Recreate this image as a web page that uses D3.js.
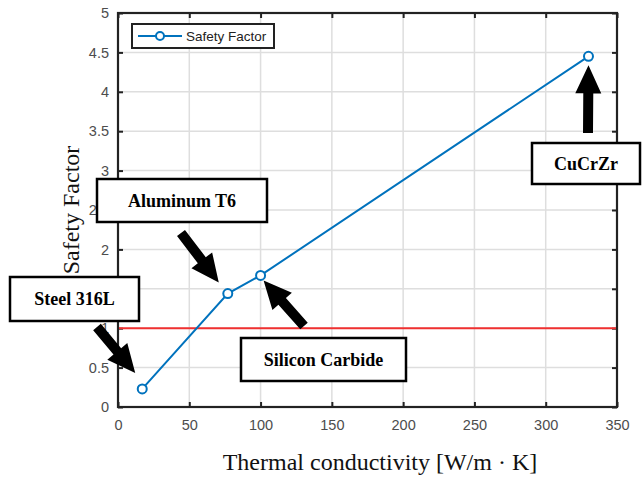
<!DOCTYPE html>
<html>
<head>
<meta charset="utf-8">
<script src="https://cdn.jsdelivr.net/npm/d3@7"></script>
<style>
  body { margin: 0; background: #fff; }
  svg { display: block; }
  .tick text { font-family: Arial, "Liberation Sans", sans-serif; font-size: 14.5px; fill: #4d4d4d; }
</style>
</head>
<body>
<div id="chart"></div>
<script>
const materials = ["Steel 316L", "Aluminum T6", "Silicon Carbide", "CuCrZr"];
const conductivity = [17, 77, 100, 330];
const safetyFactor = [0.23, 1.44, 1.67, 4.45];
const limitValue = 1;
const xTicks = [0, 50, 100, 150, 200, 250, 300, 350];
const yTicks = [0, 0.5, 1, 1.5, 2, 2.5, 3, 3.5, 4, 4.5, 5];

const width = 644, height = 477;
const margin = {top: 13, right: 27, bottom: 70, left: 118};

const svg = d3.select("#chart").append("svg")
    .attr("width", width)
    .attr("height", height);

const x = d3.scaleLinear().domain([0, 350]).range([margin.left, width - margin.right]);
const y = d3.scaleLinear().domain([0, 5]).range([height - margin.bottom, margin.top]);

const x0 = x.range()[0], x1 = x.range()[1];
const y0 = y.range()[0], y1 = y.range()[1];

// grid
const grid = svg.append("g");
grid.selectAll(".gx").data(xTicks.slice(1, -1)).enter().append("line")
    .attr("x1", d => x(d)).attr("x2", d => x(d))
    .attr("y1", y1).attr("y2", y0)
    .attr("stroke", "#dedede").attr("stroke-width", 1.5);
grid.selectAll(".gy").data(yTicks.slice(1, -1)).enter().append("line")
    .attr("y1", d => y(d)).attr("y2", d => y(d))
    .attr("x1", x0).attr("x2", x1)
    .attr("stroke", "#dedede").attr("stroke-width", 1.5);

// axes
svg.append("g")
    .attr("transform", `translate(0,${y0})`)
    .call(d3.axisBottom(x).tickValues(xTicks).tickSize(-5).tickPadding(13).tickFormat(d3.format("d")))
    .call(g => g.select(".domain").remove())
    .call(g => g.selectAll(".tick line").attr("stroke", "#222").attr("stroke-width", 2));
svg.append("g")
    .attr("transform", `translate(0,${y1})`)
    .call(d3.axisTop(x).tickValues(xTicks).tickSize(-5).tickFormat(""))
    .call(g => g.select(".domain").remove())
    .call(g => g.selectAll(".tick line").attr("stroke", "#222").attr("stroke-width", 2));
svg.append("g")
    .attr("transform", `translate(${x0},0)`)
    .call(d3.axisLeft(y).tickValues(yTicks).tickSize(-5).tickPadding(9).tickFormat(d3.format("")))
    .call(g => g.select(".domain").remove())
    .call(g => g.selectAll(".tick line").attr("stroke", "#222").attr("stroke-width", 2));
svg.append("g")
    .attr("transform", `translate(${x1},0)`)
    .call(d3.axisRight(y).tickValues(yTicks).tickSize(-5).tickFormat(""))
    .call(g => g.select(".domain").remove())
    .call(g => g.selectAll(".tick line").attr("stroke", "#222").attr("stroke-width", 2));

// frame
svg.append("rect")
    .attr("x", x0).attr("y", y1)
    .attr("width", x1 - x0).attr("height", y0 - y1)
    .attr("fill", "none").attr("stroke", "#222").attr("stroke-width", 2.2);

// limit line
svg.append("line")
    .attr("x1", x(0) + 1).attr("x2", x(350) - 1)
    .attr("y1", y(limitValue)).attr("y2", y(limitValue))
    .attr("stroke", "#f03030").attr("stroke-width", 2);

// series
const pts = conductivity.map((c, i) => ({c: c, s: safetyFactor[i], name: materials[i]}));
svg.append("path")
    .datum(pts)
    .attr("fill", "none")
    .attr("stroke", "#0072BD")
    .attr("stroke-width", 2)
    .attr("d", d3.line().x(d => x(d.c)).y(d => y(d.s)));
svg.selectAll(".pt").data(pts).enter().append("circle")
    .attr("cx", d => x(d.c)).attr("cy", d => y(d.s))
    .attr("r", 4.5)
    .attr("fill", "#fff")
    .attr("stroke", "#0072BD").attr("stroke-width", 2);

// legend
const lg = svg.append("g");
lg.append("rect").attr("x", 132).attr("y", 24).attr("width", 142).attr("height", 24)
    .attr("fill", "#fff").attr("stroke", "#222").attr("stroke-width", 2);
lg.append("line").attr("x1", 138).attr("x2", 182).attr("y1", 36).attr("y2", 36)
    .attr("stroke", "#0072BD").attr("stroke-width", 2);
lg.append("circle").attr("cx", 160).attr("cy", 36).attr("r", 4)
    .attr("fill", "#fff").attr("stroke", "#0072BD").attr("stroke-width", 2);
lg.append("text").attr("x", 186).attr("y", 41)
    .attr("font-family", "Arial, 'Liberation Sans', sans-serif")
    .attr("font-size", 13.5).attr("fill", "#222")
    .text("Safety Factor");

// axis titles
svg.append("text")
    .attr("x", 380).attr("y", 470)
    .attr("text-anchor", "middle")
    .attr("font-family", "'Liberation Serif', 'Times New Roman', serif")
    .attr("font-size", 24).attr("fill", "#111")
    .text("Thermal conductivity [W/m \u00b7 K]");
svg.append("text")
    .attr("transform", "translate(79,210) rotate(-90)")
    .attr("text-anchor", "middle")
    .attr("font-family", "'Liberation Serif', 'Times New Roman', serif")
    .attr("font-size", 24).attr("fill", "#111")
    .text("Safety Factor");

// annotations: label boxes and arrows (arrow tip offset from the data point)
const boxes = [
    {x: 10, y: 277, w: 129, h: 44, tail: [97, 327], off: [-7, -16]},
    {x: 97, y: 179, w: 170, h: 43, tail: [181, 233], off: [-9, -11]},
    {x: 241, y: 338, w: 165, h: 43, tail: [304, 326], off: [3, 5]},
    {x: 532, y: 143, w: 108, h: 41, tail: [588, 133], off: [0, 9]}
];

function arrowPath(tx, ty, hx, hy) {
    const dx = hx - tx, dy = hy - ty;
    const len = Math.sqrt(dx * dx + dy * dy);
    const ux = dx / len, uy = dy / len, px = -uy, py = ux;
    const sw = 5, hw = 13, hl = 28;
    const bx = hx - ux * hl, by = hy - uy * hl;
    const p = [
        [tx + px * sw, ty + py * sw],
        [bx + px * sw, by + py * sw],
        [bx + px * hw, by + py * hw],
        [hx, hy],
        [bx - px * hw, by - py * hw],
        [bx - px * sw, by - py * sw],
        [tx - px * sw, ty - py * sw]
    ];
    return "M" + p.map(q => q.join(",")).join("L") + "Z";
}

pts.forEach((d, i) => {
    const b = boxes[i];
    svg.append("path")
        .attr("d", arrowPath(b.tail[0], b.tail[1], x(d.c) + b.off[0], y(d.s) + b.off[1]))
        .attr("fill", "#000");
    svg.append("rect")
        .attr("x", b.x).attr("y", b.y).attr("width", b.w).attr("height", b.h)
        .attr("fill", "#fff").attr("stroke", "#000").attr("stroke-width", 2.5);
    svg.append("text")
        .attr("x", b.x + b.w / 2).attr("y", b.y + b.h / 2 + 6)
        .attr("text-anchor", "middle")
        .attr("font-family", "'Liberation Serif', 'Times New Roman', serif")
        .attr("font-weight", "bold")
        .attr("font-size", 18).attr("fill", "#000")
        .text(d.name);
});
</script>
</body>
</html>
